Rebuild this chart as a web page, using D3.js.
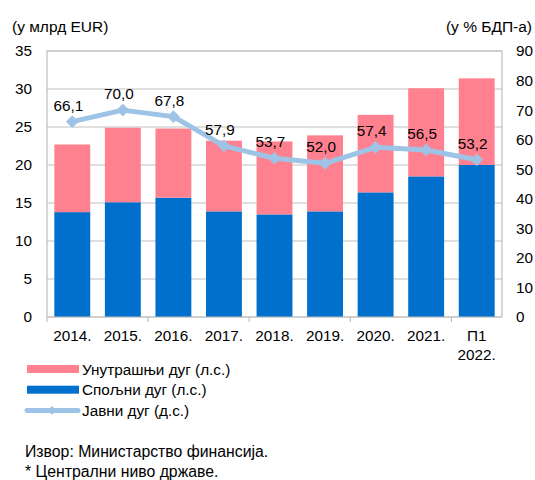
<!DOCTYPE html>
<html>
<head>
    <meta charset="utf-8">
    <title>Јавни дуг</title>
    <script type="text/javascript" src="https://cdnjs.cloudflare.com/ajax/libs/d3/7.8.5/d3.min.js"></script>
    <style>
        body { margin: 0; background: #fff; }
        svg text { font-family: "Liberation Sans", Arial, sans-serif; fill: #000; }
    </style>
</head>

<body>

<script type="text/javascript">
    // data
    var categories = ["2014.", "2015.", "2016.", "2017.", "2018.", "2019.", "2020.", "2021.", "П1\n2022."];
    var externalDebt = [13.8, 15.1, 15.7, 13.9, 13.5, 13.9, 16.4, 18.5, 20.0];     // Спољни дуг, л.с.
    var domesticDebt = [8.9, 9.8, 9.1, 9.3, 9.6, 10.0, 10.2, 11.6, 11.4];         // Унутрашњи дуг, л.с.
    var publicDebt = [66.1, 70.0, 67.8, 57.9, 53.7, 52.0, 57.4, 56.5, 53.2];       // Јавни дуг, д.с.
    var leftTicks = [0, 5, 10, 15, 20, 25, 30, 35];
    var rightTicks = [0, 10, 20, 30, 40, 50, 60, 70, 80, 90];

    var width = 535, height = 480,
        margins = {top: 51, left: 47, right: 33, bottom: 163};

    var colors = {blue: "#0070cc", pink: "#ff808f", line: "#9dc3e6", grid: "#bfbfbf"};

    var svg = d3.select("body").append("svg")
            .attr("width", width)
            .attr("height", height);

    var x = d3.scaleBand()
            .domain(categories)
            .range([margins.left, width - margins.right])
            .paddingInner(0.29)
            .paddingOuter(0.145);

    var yL = d3.scaleLinear().domain([0, 35]).range([height - margins.bottom, margins.top]);
    var yR = d3.scaleLinear().domain([0, 90]).range([height - margins.bottom, margins.top]);

    // grid lines
    svg.append("g").selectAll("line")
            .data(leftTicks)
            .enter().append("line")
            .attr("x1", margins.left)
            .attr("x2", width - margins.right)
            .attr("y1", function (d) { return yL(d); })
            .attr("y2", function (d) { return yL(d); })
            .attr("stroke", colors.grid)
            .attr("stroke-width", 1.2);

    // plot frame (left / right / top)
    svg.append("path")
            .attr("d", "M" + margins.left + "," + yL(0) + "V" + yL(35) + "H" + (width - margins.right) + "V" + yL(0))
            .attr("fill", "none")
            .attr("stroke", colors.grid)
            .attr("stroke-width", 1.2);

    // stacked bars
    var rows = categories.map(function (c, i) {
        return {cat: c, ext: externalDebt[i], dom: domesticDebt[i], pd: publicDebt[i]};
    });

    var barG = svg.append("g");

    barG.selectAll("rect.ext")
            .data(rows)
            .enter().append("rect")
            .attr("class", "ext")
            .attr("x", function (d) { return x(d.cat); })
            .attr("width", x.bandwidth())
            .attr("y", function (d) { return yL(d.ext); })
            .attr("height", function (d) { return yL(0) - yL(d.ext); })
            .attr("fill", colors.blue);

    barG.selectAll("rect.dom")
            .data(rows)
            .enter().append("rect")
            .attr("class", "dom")
            .attr("x", function (d) { return x(d.cat); })
            .attr("width", x.bandwidth())
            .attr("y", function (d) { return yL(d.ext + d.dom); })
            .attr("height", function (d) { return yL(d.ext) - yL(d.ext + d.dom); })
            .attr("fill", colors.pink);

    // bottom axis line + ticks on every second category boundary
    var base = yL(0);
    svg.append("line")
            .attr("x1", margins.left).attr("x2", width - margins.right)
            .attr("y1", base).attr("y2", base)
            .attr("stroke", colors.grid).attr("stroke-width", 1.2);

    var step = x.step();
    svg.append("g").selectAll("line")
            .data(categories.filter(function (c, i) { return i % 2 === 0; }))
            .enter().append("line")
            .attr("x1", function (d) { return x(d) - step * x.paddingInner() / 2; })
            .attr("x2", function (d) { return x(d) - step * x.paddingInner() / 2; })
            .attr("y1", base).attr("y2", base + 5)
            .attr("stroke", colors.grid).attr("stroke-width", 1.2);

    // category labels (multi-line)
    var catLabels = svg.append("g").selectAll("text")
            .data(categories)
            .enter().append("text")
            .attr("text-anchor", "middle")
            .attr("font-size", 15.3)
            .attr("x", function (d) { return x(d) + x.bandwidth() / 2; })
            .attr("y", base + 24);

    catLabels.selectAll("tspan")
            .data(function (d) { return d.split("\n"); })
            .enter().append("tspan")
            .attr("x", function () { return d3.select(this.parentNode).attr("x"); })
            .attr("dy", function (d, i) { return i ? 19 : 0; })
            .text(function (d) { return d; });

    // y axes
    var leftAxis = svg.append("g")
            .attr("transform", "translate(" + margins.left + ",0)")
            .call(d3.axisLeft(yL).tickValues(leftTicks).tickSize(0).tickPadding(15));

    var rightAxis = svg.append("g")
            .attr("transform", "translate(" + (width - margins.right) + ",0)")
            .call(d3.axisRight(yR).tickValues(rightTicks).tickSize(0).tickPadding(14));

    [leftAxis, rightAxis].forEach(function (a) {
        a.select(".domain").remove();
        a.selectAll("text")
                .attr("font-size", 15.3)
                .attr("font-family", "Liberation Sans, Arial, sans-serif")
                .attr("fill", "#000");
    });

    // axis titles
    svg.append("text").attr("x", 12).attr("y", 32).attr("font-size", 15.5).text("(у млрд EUR)");
    svg.append("text").attr("x", 532).attr("y", 32).attr("font-size", 15.5)
            .attr("text-anchor", "end").text("(у % БДП-а)");

    // public debt line
    var cx = function (d) { return x(d.cat) + x.bandwidth() / 2; };

    var line = d3.line()
            .x(cx)
            .y(function (d) { return yR(d.pd); });

    svg.append("path")
            .datum(rows)
            .attr("d", line)
            .attr("fill", "none")
            .attr("stroke", colors.line)
            .attr("stroke-width", 5)
            .attr("stroke-linejoin", "round");

    var diamond = d3.symbol().type(d3.symbolSquare).size(80);

    svg.append("g").selectAll("path")
            .data(rows)
            .enter().append("path")
            .attr("d", diamond)
            .attr("transform", function (d) { return "translate(" + cx(d) + "," + yR(d.pd) + ") rotate(45)"; })
            .attr("fill", colors.line);

    svg.append("g").selectAll("text")
            .data(rows)
            .enter().append("text")
            .attr("x", function (d) { return cx(d) - 4; })
            .attr("y", function (d) { return yR(d.pd) - 11; })
            .attr("text-anchor", "middle")
            .attr("font-size", 15.3)
            .text(function (d) { return d3.format(".1f")(d.pd).replace(".", ","); });

    // legend
    var legend = svg.append("g");
    var items = [
        {label: "Унутрашњи дуг (л.с.)", type: "bar", color: colors.pink},
        {label: "Спољни дуг (л.с.)", type: "bar", color: colors.blue},
        {label: "Јавни дуг (д.с.)", type: "line", color: colors.line}
    ];

    items.forEach(function (it, i) {
        var ly = 369 + i * 20.7;
        if (it.type === "bar") {
            legend.append("rect")
                    .attr("x", 27).attr("y", ly - 4)
                    .attr("width", 52).attr("height", 8)
                    .attr("fill", it.color);
        } else {
            legend.append("line")
                    .attr("x1", 27).attr("x2", 78)
                    .attr("y1", ly).attr("y2", ly)
                    .attr("stroke", it.color).attr("stroke-width", 5)
                    .attr("stroke-linecap", "round");
            legend.append("path")
                    .attr("d", d3.symbol().type(d3.symbolSquare).size(40))
                    .attr("transform", "translate(52," + ly + ") rotate(45)")
                    .attr("fill", it.color);
        }
        legend.append("text")
                .attr("x", 82).attr("y", ly + 5.5)
                .attr("font-size", 15.3)
                .text(it.label);
    });

    // notes
    svg.append("text").attr("x", 25).attr("y", 456.5).attr("font-size", 15.8)
            .text("Извор: Министарство финансија.");
    svg.append("text").attr("x", 25).attr("y", 476.5).attr("font-size", 15.8)
            .text("* Централни ниво државе.");
</script>

</body>
</html>
